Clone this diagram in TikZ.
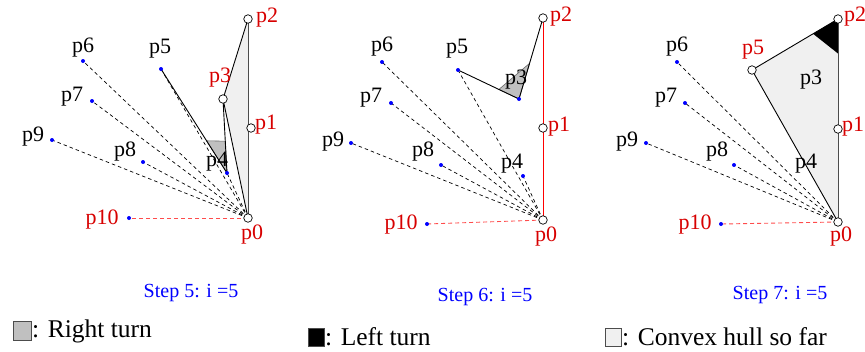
\documentclass[tikz,border=0pt]{standalone}
\usepackage{fontspec}
\setmainfont{Liberation Serif}
\usetikzlibrary{calc}
\definecolor{hullgray}{RGB}{240,240,240}
\definecolor{turngray}{RGB}{192,192,192}
\definecolor{labred}{RGB}{215,0,0}
\tikzset{
  dot/.style={circle,fill=blue,inner sep=0pt,minimum size=4pt},
  ring/.style={circle,draw,fill=white,inner sep=0pt,minimum size=8.5pt,line width=0.7pt},
  lab/.style={inner sep=0pt,font=\fontsize{22}{22}\selectfont},
  ray/.style={dash pattern=on 3.5pt off 3pt,line width=0.7pt},
  redray/.style={dash pattern=on 4pt off 3pt,line width=0.9pt,red!70},
  edge/.style={line width=0.9pt},
  caption/.style={text=blue,inner sep=0pt,font=\fontsize{20}{20}\selectfont},
  key/.style={anchor=base west,inner sep=0pt,font=\fontsize{25.5}{25.5}\selectfont},
  keybox/.style={draw=black!70,line width=0.6pt}
}
\begin{document}
\begin{tikzpicture}[x=1pt,y=-1pt]
\useasboundingbox (0,0) rectangle (865,351);

% step 5
\coordinate (a0) at (248,218);
\coordinate (a1) at (251,128);
\coordinate (a2) at (248,19);
\coordinate (a3) at (223,99);
\coordinate (a4) at (227,173);
\coordinate (a5) at (161,69);
\coordinate (a6) at (83,61);
\coordinate (a7) at (92,101);
\coordinate (a8) at (143,162);
\coordinate (a9) at (52,140);
\coordinate (a10) at (129,218);

\fill[hullgray] (a0) -- (a2) -- (a3) -- cycle;
\foreach \k in {4,...,9}
  \draw[ray] (a0) -- (a\k);
\draw[redray] (a0) -- (a10);
\filldraw[fill=turngray,draw=black!60,line width=0.6pt]
  (a4) -- ($(a4)!0.31!(a5)$) -- ($(a4)!0.43!(a3)$) -- cycle;
\draw[edge] (a2) -- (a3) -- (a0);
\draw[edge] (a3) -- (a4) -- (a5);
\draw[edge,black!70] (a0) -- (a2);

\foreach \k in {0,1,2,3}
  \node[ring] (a\k m) at (a\k) {};
\foreach \k in {4,...,10}
  \node[dot] (a\k m) at (a\k) {};

\node[lab,labred] (a0l) at (252,235) {p0};
\node[lab,labred] (a1l) at (266,125) {p1};
\node[lab,labred] (a2l) at (267,18) {p2};
\node[lab,labred] (a3l) at (220,78) {p3};
\node[lab] (a4l) at (217,162) {p4};
\node[lab] (a5l) at (160,49) {p5};
\node[lab] (a6l) at (83,48) {p6};
\node[lab] (a7l) at (72,97) {p7};
\node[lab] (a8l) at (125,152) {p8};
\node[lab] (a9l) at (33,137) {p9};
\node[lab,labred] (a10l) at (102,220) {p10};
\node[caption] (s5) at (191,293) {Step 5: i =5};

% step 6
\coordinate (b0) at (543,220);
\coordinate (b1) at (543,128);
\coordinate (b2) at (543,18);
\coordinate (b3) at (519,99);
\coordinate (b4) at (523,176);
\coordinate (b5) at (458,70);
\coordinate (b6) at (382,62);
\coordinate (b7) at (391,103);
\coordinate (b8) at (441,165);
\coordinate (b9) at (351,143);
\coordinate (b10) at (427,224);

\foreach \k in {4,...,9}
  \draw[ray] (b0) -- (b\k);
\draw[redray] (b0) -- (b10);
\filldraw[fill=turngray,draw=black!60,line width=0.6pt]
  (b3) -- ($(b3)!0.33!(b5)$) -- ($(b3)!0.44!(b2)$) -- cycle;
\draw[edge] (b2) -- (b3) -- (b5);
\draw[line width=1pt,red] (b0) -- (b2);

\foreach \k in {0,1,2}
  \node[ring] (b\k m) at (b\k) {};
\foreach \k in {3,...,10}
  \node[dot] (b\k m) at (b\k) {};

\node[lab,labred] (b0l) at (546,237) {p0};
\node[lab,labred] (b1l) at (559,127) {p1};
\node[lab,labred] (b2l) at (561,17) {p2};
\node[lab] (b3l) at (516,80) {p3};
\node[lab] (b4l) at (512,164) {p4};
\node[lab] (b5l) at (457,49) {p5};
\node[lab] (b6l) at (382,47) {p6};
\node[lab] (b7l) at (371,98) {p7};
\node[lab] (b8l) at (423,152) {p8};
\node[lab] (b9l) at (333,142) {p9};
\node[lab,labred] (b10l) at (401,225) {p10};
\node[caption] (s6) at (485,297) {Step 6: i =5};

% step 7
\coordinate (c0) at (838,222);
\coordinate (c1) at (838,129);
\coordinate (c2) at (838,19);
\coordinate (c5) at (752,70);
\coordinate (c6) at (677,62);
\coordinate (c7) at (685,103);
\coordinate (c8) at (734,165);
\coordinate (c9) at (646,143);
\coordinate (c10) at (721,224);

\foreach \k in {6,...,9}
  \draw[ray] (c0) -- (c\k);
\draw[redray] (c0) -- (c10);
\fill[hullgray] (c0) -- (c2) -- (c5) -- cycle;
\fill[black] (c2) -- ($(c2)!0.29!(c5)$) -- ($(c2)!0.17!(c0)$) -- cycle;
\draw[edge] (c2) -- (c5) -- (c0);
\draw[edge,black!70] (c0) -- (c2);

\foreach \k in {0,1,2,5}
  \node[ring] (c\k m) at (c\k) {};
\foreach \k in {6,...,10}
  \node[dot] (c\k m) at (c\k) {};

\node[lab,labred] (c0l) at (841,237) {p0};
\node[lab,labred] (c1l) at (853,127) {p1};
\node[lab,labred] (c2l) at (855,17) {p2};
\node[lab] (c3l) at (811,80) {p3};
\node[lab] (c4l) at (806,164) {p4};
\node[lab,labred] (c5l) at (753,50) {p5};
\node[lab] (c6l) at (677,47) {p6};
\node[lab] (c7l) at (666,98) {p7};
\node[lab] (c8l) at (717,152) {p8};
\node[lab] (c9l) at (627,142) {p9};
\node[lab,labred] (c10l) at (695,225) {p10};
\node[caption] (s7) at (780,295) {Step 7: i =5};

% legend
\filldraw[keybox,fill=turngray] (13,321) rectangle (31,340);
\node[key] (k1) at (32,337) {: Right turn};
\filldraw[keybox,fill=black] (308,328) rectangle (324,346);
\node[key] (k2) at (325,345) {: Left turn};
\filldraw[keybox,fill=hullgray] (605,328) rectangle (621,346);
\node[key] (k3) at (622,345) {: Convex hull so far};
\end{tikzpicture}
\end{document}
